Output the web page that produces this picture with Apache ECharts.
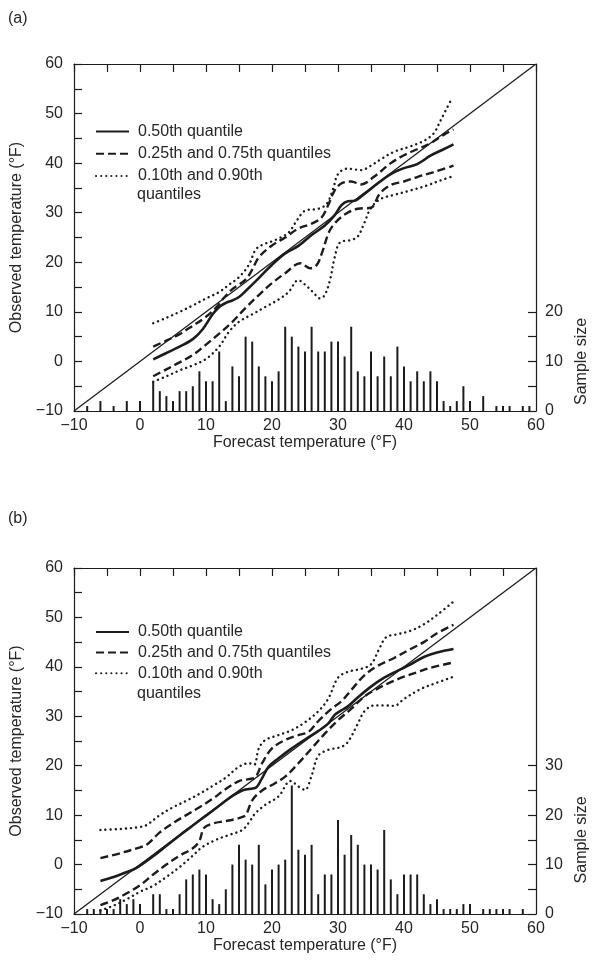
<!DOCTYPE html>
<html>
<head>
<meta charset="utf-8">
<script src="https://cdn.jsdelivr.net/npm/echarts@6/dist/echarts.min.js"></script>
<style>
  html, body { margin: 0; padding: 0; background: #fff; }
  #chart { width: 593px; height: 970px; }
</style>
</head>
<body>
<div id="chart"></div>
<script>
// ---- Panel (a): sample sizes per forecast temperature (°F) ----
const forecastA = [-8, -6, -4, -2, 0, 2, 3, 4, 5, 6, 7, 8, 9, 10, 11, 12, 13, 14, 15, 16, 17, 18, 19, 20, 21,
  22, 23, 24, 25, 26, 27, 28, 29, 30, 31, 32, 33, 34, 35, 36, 37, 38, 39, 40, 41, 42, 43, 44, 45, 46, 47, 48,
  49, 50, 52, 54, 55, 56, 58, 59];
const countA = [1, 2, 1, 2, 2, 6, 4, 3, 2, 4, 4, 5, 8, 6, 6, 12, 2, 9, 7, 15, 14, 9, 7, 6, 8,
  17, 15, 13, 12, 17, 12, 12, 14, 14, 11, 17, 8, 7, 12, 7, 11, 7, 13, 9, 6, 8, 6, 8, 6, 2, 1, 2,
  5, 2, 3, 1, 1, 1, 1, 1];

// ---- Panel (a): conditional quantile curves [forecast, observed] ----
const q50A = [[2, 0.4], [4, 1.7], [6, 3.0], [8, 4.5], [9.5, 6.5], [11, 9.5], [12, 11.0], [13, 11.8], [14, 12.3],
  [15, 13.0], [16, 14.2], [18, 16.8], [20, 19.5], [22, 21.8], [24, 23.3], [26, 25.5], [28, 27.4], [29.5, 29.5],
  [30.5, 31.5], [31.5, 32.3], [32.5, 32.4], [34, 33.8], [36, 35.9], [38, 37.8], [40, 39.0], [42, 39.8],
  [44, 41.5], [46, 42.8], [47.5, 43.8]];
const q75A = [[2, 3.0], [4, 4.2], [6, 5.5], [8, 7.2], [10, 9.0], [11.5, 10.8], [12.5, 12.5], [14, 14.6],
  [16, 16.5], [17, 18.5], [18, 21.0], [20, 23.4], [22, 25.0], [24, 26.8], [26, 27.8], [27.5, 29.0],
  [28.5, 31.5], [29.5, 34.5], [30.5, 35.9], [32, 36.3], [33.5, 35.7], [35.5, 37.3], [38, 40.0], [40, 41.6],
  [42, 42.8], [44, 44.0], [46, 45.7], [47.5, 46.8]];
const q25A = [[2, -3.0], [4, -1.6], [6, -0.2], [8, 1.3], [10, 3.4], [12, 5.6], [14, 8.0], [16, 10.8],
  [18, 13.4], [20, 15.8], [22, 17.8], [24.3, 19.8], [25.8, 18.8], [26.8, 19.5], [27.6, 22.0], [28.6, 26.0],
  [29.6, 28.0], [31.2, 29.8], [33, 30.8], [35, 31.0], [36.3, 33.8], [38, 35.6], [40, 36.3], [42, 37.2],
  [44.5, 38.2], [47.5, 39.5]];
const q90A = [[2, 7.7], [4, 8.8], [6, 10.0], [8, 11.3], [10, 12.7], [12, 14.0], [13.5, 15.5], [15, 17.0],
  [16.5, 19.5], [17.5, 22.5], [18.5, 23.5], [20.5, 24.5], [22.5, 26.0], [23.8, 28.5], [25, 30.4], [27, 30.8],
  [28.3, 31.8], [29.3, 35.0], [30, 37.8], [31.4, 38.9], [33.5, 38.6], [35, 39.5], [36.5, 40.8], [38.5, 42.3],
  [41, 43.4], [43, 44.5], [44.5, 46.0], [45.5, 48.5], [47.3, 53.2]];
const q10A = [[2, -4.1], [4, -3.0], [6, -1.8], [8, -0.8], [10, 0.5], [12, 3.0], [13.5, 6.0], [15, 8.0],
  [17, 9.5], [19, 11.0], [21, 12.5], [22.5, 14.0], [24, 16.4], [25, 15.5], [26.2, 14.0], [27.3, 12.7],
  [28, 13.4], [28.8, 16.5], [29.5, 21.0], [30.3, 24.0], [32, 24.5], [33, 25.2], [34, 28.0], [35, 31.0],
  [36.5, 32.8], [38.5, 33.6], [41, 34.5], [43.5, 35.5], [45.5, 36.5], [47.3, 37.3]];

// ---- Panel (b): sample sizes per forecast temperature (°F) ----
const forecastB = [-8, -7, -6, -5, -4, -3, -2, -1, 0, 2, 3, 4, 5, 6, 7, 8, 9, 10, 11, 12, 13, 14, 15, 16, 17,
  18, 19, 20, 21, 22, 23, 24, 25, 26, 27, 28, 29, 30, 31, 32, 33, 34, 35, 36, 37, 38, 39, 40, 41, 42, 43,
  44, 45, 46, 47, 48, 49, 50, 52, 53, 54, 55, 56, 58];
const countB = [1, 1, 1, 1, 1, 3, 2, 3, 2, 4, 4, 1, 1, 4, 7, 8, 9, 8, 3, 2, 5, 10, 14, 11, 10,
  14, 6, 9, 10, 11, 26, 13, 12, 14, 4, 8, 8, 19, 12, 16, 14, 10, 10, 9, 17, 7, 4, 8, 8, 8, 4,
  2, 3, 1, 1, 1, 2, 2, 1, 1, 1, 1, 1, 1];

// ---- Panel (b): conditional quantile curves [forecast, observed] ----
const q50B = [[-6, -3.3], [-4, -2.5], [-2, -1.5], [-1, -1.0], [0, -0.2], [2, 1.7], [4, 3.8], [6, 5.9],
  [8, 7.9], [10, 9.9], [12, 11.9], [14, 13.9], [15.5, 15.0], [16.5, 15.3], [17.5, 15.5], [18.5, 17.5],
  [19.5, 19.8], [21, 21.5], [23, 23.5], [25, 25.3], [27, 27.0], [28.5, 28.5], [29.5, 30.3], [30.5, 31.2],
  [31.5, 32.0], [33, 33.8], [35, 36.0], [37, 37.8], [39, 39.2], [41, 40.5], [43, 42.0], [45, 42.9],
  [47.5, 43.6]];
const q75B = [[-6, 1.3], [-3, 2.3], [0, 3.5], [1, 4.0], [3, 6.5], [5, 8.4], [7, 10.0], [9, 11.6],
  [11, 13.3], [13, 15.3], [15, 16.9], [16.5, 17.3], [17.5, 17.7], [18.5, 20.5], [20, 23.5], [22, 25.2],
  [24, 26.2], [25.5, 26.8], [27, 29.0], [29, 31.5], [30.5, 33.0], [32, 35.3], [34, 38.3], [36, 40.2],
  [38.5, 41.8], [41, 43.6], [43, 45.0], [45, 46.8], [47.5, 48.5]];
const q25B = [[-6, -8.2], [-4, -7.2], [-2, -5.8], [0, -4.2], [2, -2.0], [4, 0.0], [6, 1.8], [8, 3.3],
  [9, 4.8], [9.7, 7.4], [11, 8.3], [13, 8.8], [15, 9.4], [16, 10.0], [17, 13.0], [18.5, 15.0], [20, 16.1],
  [22, 17.8], [24, 20.5], [26, 23.5], [28, 26.5], [30, 29.2], [32, 31.5], [34, 34.0], [36, 35.6],
  [38, 36.9], [40, 38.0], [42, 38.9], [44, 39.8], [47.5, 40.9]];
const q90B = [[-6, 7.0], [-3, 7.2], [0, 7.6], [1, 8.0], [3, 10.0], [5, 11.6], [7, 12.9], [9, 14.3],
  [11, 15.9], [13, 17.6], [15, 19.8], [16.5, 20.5], [17.3, 20.2], [18, 23.5], [19, 25.2], [21, 26.2],
  [23, 27.2], [25, 28.8], [27, 31.0], [28.5, 33.5], [30, 37.8], [31.5, 39.0], [33.5, 39.6], [35, 40.5],
  [36.2, 43.5], [37.3, 46.0], [39, 46.6], [41, 47.3], [43, 48.6], [45, 50.5], [47.5, 53.2]];
const q10B = [[-6, -9.3], [-4, -8.3], [-2, -7.0], [0, -5.5], [2, -4.3], [4, -2.5], [6, -0.5], [8, 1.8],
  [9.5, 3.6], [11.5, 5.0], [13.5, 6.0], [15.5, 7.0], [16.5, 8.5], [17.5, 10.4], [19, 12.1], [21, 13.8],
  [22.8, 16.9], [24.2, 15.6], [25, 15.1], [26, 18.0], [27, 22.0], [28.5, 23.2], [30.5, 23.8], [31.5, 24.8],
  [33, 28.5], [34, 31.0], [35.5, 32.2], [37, 32.2], [38.5, 32.1], [40, 33.5], [42.5, 35.5], [45, 36.8],
  [47.5, 38.0]];

// ---- Shared labels ----
const panelLabels = ['(a)', '(b)'];
const xTitle = 'Forecast temperature (°F)';
const yTitle = 'Observed temperature (°F)';
const countTitle = 'Sample size';
const nameMedian = '0.50th quantile';
const nameQuartiles = '0.25th and 0.75th quantiles';
const nameDeciles = '0.10th and 0.90th';
const decilesSecondLine = 'quantiles';
const diagonal = [[-10, -10], [60, 60]];

const FONT = '"Liberation Sans", Arial, Helvetica, sans-serif';
const FS = 16;
const INK = '#1c1c1c';
const TXT = '#262626';

function minusFmt(v) { return v < 0 ? '\u2212' + Math.abs(v) : String(v); }

const chart = echarts.init(document.getElementById('chart'), null, { renderer: 'canvas' });

// Geometry of each panel: main plot box and the strip holding the sample-size bars
const panels = [
  { top: 64, height: 347, countMax: 20, legendTop: 122, legendGap: 3.2, quantTop: 185,
    label: panelLabels[0], labelTop: 11,
    bars: forecastA.map((x, i) => [x, countA[i]]), q50: q50A, q25: q25A, q75: q75A, q10: q10A, q90: q90A },
  { top: 568, height: 346, countMax: 30, legendTop: 622.5, legendGap: 1.6, quantTop: 684.5,
    label: panelLabels[1], labelTop: 511,
    bars: forecastB.map((x, i) => [x, countB[i]]), q50: q50B, q25: q25B, q75: q75B, q10: q10B, q90: q90B }
];
const LEFT = 74, WIDTH = 462;

const grid = [], xAxis = [], yAxis = [], series = [], legend = [], title = [];

panels.forEach((p, k) => {
  const gMain = grid.length;
  grid.push({ left: LEFT, top: p.top, width: WIDTH, height: p.height,
    containLabel: false, outerBoundsMode: 'none' });
  const unitPx = p.height / 70;
  const barH = p.countMax * unitPx;
  const gBar = grid.length;
  grid.push({ left: LEFT, top: p.top + p.height - barH, width: WIDTH, height: barH,
    containLabel: false, outerBoundsMode: 'none' });

  const xb = xAxis.length;
  xAxis.push({
    gridIndex: gMain, type: 'value', min: -10, max: 60, interval: 10, position: 'bottom',
    axisLine: { show: true, onZero: false, lineStyle: { color: INK, width: 1.2 } },
    axisTick: { show: false }, splitLine: { show: false },
    axisLabel: { color: TXT, fontSize: FS, fontFamily: FONT, margin: 7, formatter: minusFmt },
    name: xTitle, nameLocation: 'middle', nameGap: 23,
    nameTextStyle: { color: TXT, fontSize: FS, fontFamily: FONT, verticalAlign: 'top' }
  });
  xAxis.push({
    gridIndex: gMain, type: 'value', min: -10, max: 60, interval: 5, position: 'top',
    axisLine: { show: true, onZero: false, lineStyle: { color: INK, width: 1.2 } },
    axisTick: { show: true, inside: true, length: 8, lineStyle: { color: INK, width: 1.2 } },
    axisLabel: { show: false }, splitLine: { show: false }
  });
  const xBar = xAxis.length;
  xAxis.push({ gridIndex: gBar, type: 'value', min: -10, max: 60, show: false });

  const yl = yAxis.length;
  yAxis.push({
    gridIndex: gMain, type: 'value', min: -10, max: 60, interval: 5, position: 'left',
    axisLine: { show: true, onZero: false, lineStyle: { color: INK, width: 1.2 } },
    axisTick: { show: true, inside: true, length: 8, lineStyle: { color: INK, width: 1.2 } },
    splitLine: { show: false },
    axisLabel: { color: TXT, fontSize: FS, fontFamily: FONT, margin: 11,
      formatter: v => (v % 10 === 0 ? minusFmt(v) : '') },
    name: yTitle, nameLocation: 'middle', nameGap: 36, nameRotate: 90,
    nameTextStyle: { color: TXT, fontSize: FS, fontFamily: FONT }
  });
  yAxis.push({
    gridIndex: gMain, type: 'value', min: -10, max: 60, position: 'right',
    axisLine: { show: true, onZero: false, lineStyle: { color: INK, width: 1.2 } },
    axisTick: { show: false }, axisLabel: { show: false }, splitLine: { show: false }
  });
  const yBar = yAxis.length;
  yAxis.push({
    gridIndex: gBar, type: 'value', min: 0, max: p.countMax, interval: 5, position: 'right',
    axisLine: { show: false, onZero: false },
    axisTick: { show: true, inside: true, length: 8, lineStyle: { color: INK, width: 1.2 } },
    splitLine: { show: false },
    axisLabel: { color: TXT, fontSize: FS, fontFamily: FONT, margin: 9,
      formatter: v => (v % 10 === 0 ? String(v) : '') },
    name: countTitle, nameLocation: 'middle', nameGap: 38, nameRotate: 90,
    nameTextStyle: { color: TXT, fontSize: FS, fontFamily: FONT }
  });

  // sample-size bars
  series.push({
    type: 'bar', xAxisIndex: xBar, yAxisIndex: yBar, data: p.bars, barWidth: 2,
    itemStyle: { color: INK }, silent: true
  });

  const lineBase = { type: 'line', xAxisIndex: xb, yAxisIndex: yl, showSymbol: false, symbol: 'none',
    smooth: 0.35, silent: true, clip: true, color: INK };
  // 1:1 reference line
  series.push(Object.assign({}, lineBase, { name: '__diag' + k, data: diagonal, smooth: false,
    lineStyle: { color: INK, width: 1.3 } }));
  const solid = { color: INK, width: 2.6 };
  const dashed = { color: INK, width: 2.4, type: [8, 4] };
  const dotted = { color: INK, width: 2.4, type: [0.1, 5], cap: 'round' };
  series.push(Object.assign({}, lineBase, { name: nameMedian, data: p.q50, lineStyle: solid }));
  series.push(Object.assign({}, lineBase, { name: nameQuartiles, data: p.q25, lineStyle: dashed }));
  series.push(Object.assign({}, lineBase, { name: nameQuartiles, data: p.q75, lineStyle: dashed }));
  series.push(Object.assign({}, lineBase, { name: nameDeciles, data: p.q10, lineStyle: dotted }));
  series.push(Object.assign({}, lineBase, { name: nameDeciles, data: p.q90, lineStyle: dotted }));

  legend.push({
    orient: 'vertical', left: 95, top: p.legendTop, padding: 0,
    itemWidth: 33, itemHeight: 12, itemGap: p.legendGap,
    selectedMode: false,
    itemStyle: { opacity: 0 },
    textStyle: { color: TXT, fontSize: FS, fontFamily: FONT, lineHeight: 19, padding: [0, 0, 0, 4] },
    data: [nameMedian, nameQuartiles, nameDeciles]
  });

  title.push({
    text: p.label, left: 8, top: p.labelTop, padding: 0,
    textStyle: { color: TXT, fontSize: FS, fontWeight: 'normal', fontFamily: FONT }
  });
  // second line of the deciles legend entry
  title.push({
    text: decilesSecondLine, left: 137, top: p.quantTop, padding: 0,
    textStyle: { color: TXT, fontSize: FS, fontWeight: 'normal', fontFamily: FONT, lineHeight: 19 }
  });
});

chart.setOption({
  animation: false,
  backgroundColor: '#fff',
  title, grid, xAxis, yAxis, series, legend
});
</script>
</body>
</html>
